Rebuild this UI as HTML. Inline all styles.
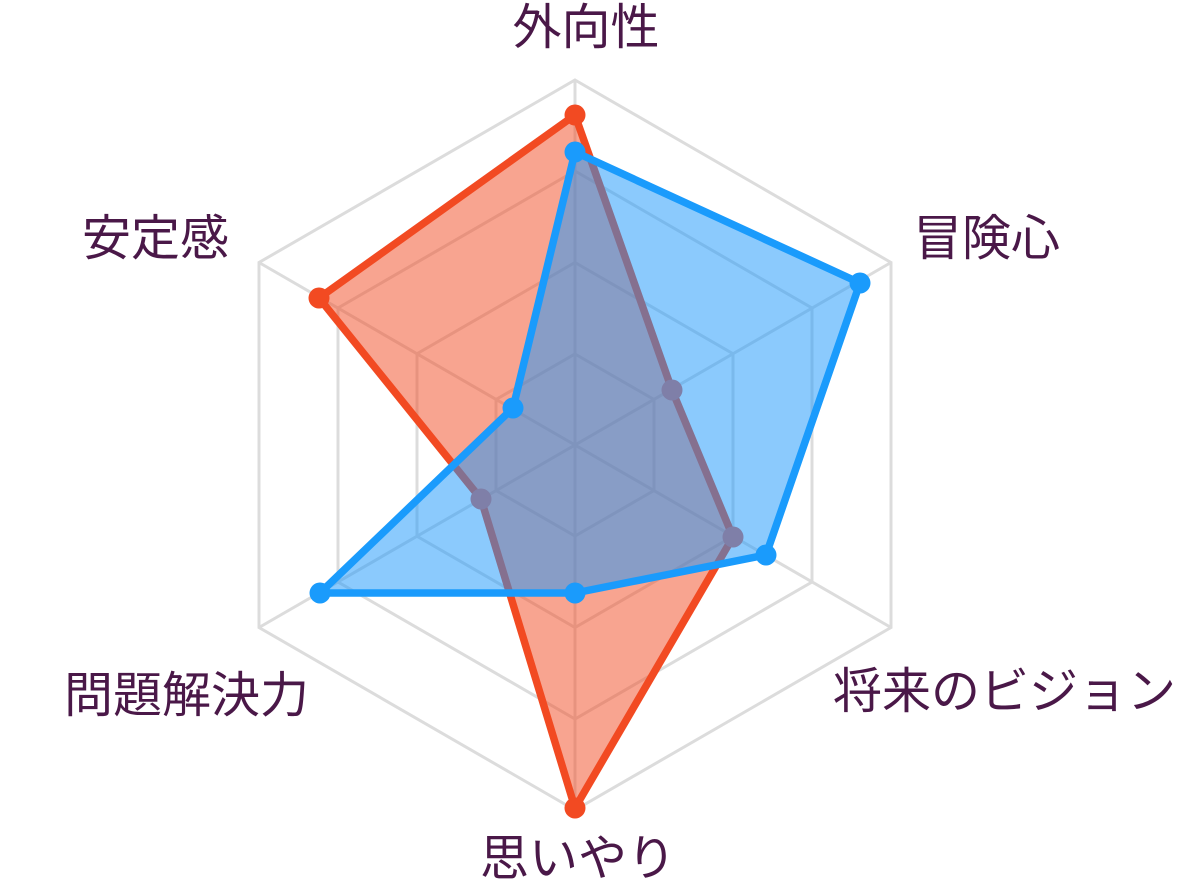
<!DOCTYPE html>
<html><head><meta charset="utf-8"><style>
html,body{margin:0;padding:0;background:#fff;}
svg{display:block;}
text{font-family:"Liberation Sans","Noto Sans CJK JP",sans-serif;font-size:49px;fill:#4a1848;}
</style></head><body>
<svg width="1192" height="891" viewBox="0 0 1192 891">
<g fill="none" stroke="#dcdcdc" stroke-width="3">
<polygon points="575,80 891,262.5 891,627.5 575,810 259,627.5 259,262.5"/>
<polygon points="575,171 812,308 812,582 575,719 338,582 338,308"/>
<polygon points="575,262.5 733,353.75 733,536.25 575,627.5 417,536.25 417,353.75"/>
<polygon points="575,354 654,399.5 654,490.5 575,536 496,490.5 496,399.5"/>
<line x1="575" y1="80" x2="575" y2="810"/>
<line x1="259" y1="262.5" x2="891" y2="627.5"/>
<line x1="891" y1="262.5" x2="259" y2="627.5"/>
</g>
<polygon points="575,115 672,390 733,537 575,808 481,499 319,298" fill="rgba(242,74,34,0.5)" stroke="#f24a22" stroke-width="7.5" stroke-linejoin="round"/>
<g fill="#f24a22">
<circle cx="575" cy="115" r="10.5"/><circle cx="575" cy="808" r="10.5"/><circle cx="319" cy="298" r="10.5"/>
</g>
<polygon points="575,152 860,283 766,555 575,593 320,593 513,408" fill="rgba(24,150,252,0.5)" stroke="#1a9bfc" stroke-width="7.5" stroke-linejoin="round"/>
<g fill="#1a9bfc">
<circle cx="575" cy="152" r="10.5"/><circle cx="860" cy="283" r="10.5"/><circle cx="766" cy="555" r="10.5"/><circle cx="575" cy="593" r="10.5"/><circle cx="320" cy="593" r="10.5"/><circle cx="513" cy="408" r="10.5"/>
</g>
<g fill="#7f7fa8">
<circle cx="672" cy="390" r="10.5"/><circle cx="733" cy="537" r="10.5"/><circle cx="481" cy="499" r="10.5"/>
</g>
<text x="586" y="44" text-anchor="middle">外向性</text>
<text x="913" y="255">冒険心</text>
<text x="229" y="255" text-anchor="end">安定感</text>
<text x="833" y="708">将来のビジョン</text>
<text x="309" y="712" text-anchor="end">問題解決力</text>
<text x="578" y="875" text-anchor="middle">思いやり</text>
</svg>
</body></html>
